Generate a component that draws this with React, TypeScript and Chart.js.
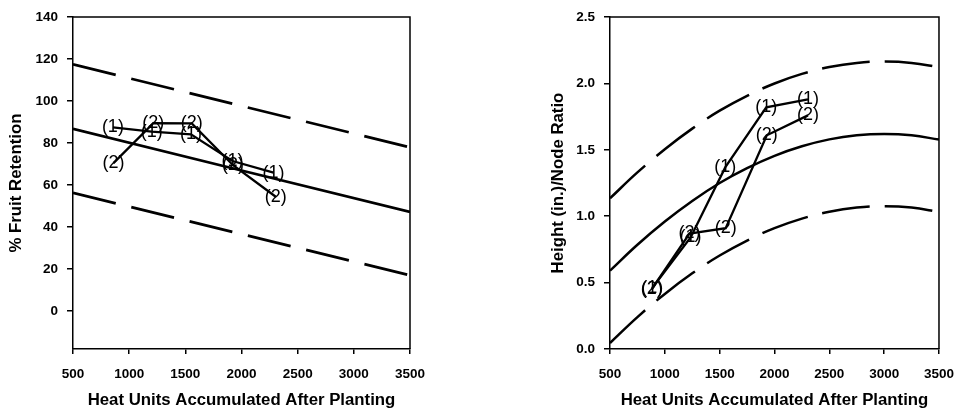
import React, { useEffect, useRef } from "react";
import { Chart, registerables } from "chart.js";

Chart.register(...registerables);

const FONT = '"Liberation Sans", Arial, Helvetica, sans-serif';

// ---------- shared ----------
const heatTicks = [500, 1000, 1500, 2000, 2500, 3000, 3500];
const xTitle = "Heat Units Accumulated After Planting";
const seriesLabels = ["(1)", "(2)"];

// ---------- left chart: % fruit retention ----------
const retentionTrendX = [500, 2000, 3500];
const retentionFit = [86.8, 67.0, 47.3];
const retentionUpper = [117.5, 97.7, 78.0];
const retentionLower = [56.3, 36.7, 17.1];
const retentionObsX1 = [855, 1200, 1550, 1920, 2285];
const retentionObs1 = [87.5, 85.5, 84.2, 71.5, 66.0];
const retentionObsX2 = [860, 1215, 1557, 1925, 2305];
const retentionObs2 = [70.5, 89.5, 89.4, 69.5, 54.5];
const retentionTicks = [0, 20, 40, 60, 80, 100, 120, 140];

// ---------- right chart: height / node ratio ----------
const ratioCurveX = [500, 750, 1000, 1250, 1500, 1750, 2000, 2250, 2500, 2750, 3000, 3250, 3500];
const ratioFit = [0.59, 0.785, 0.96, 1.115, 1.25, 1.362, 1.455, 1.527, 1.579, 1.61, 1.62, 1.61, 1.577];
const ratioUpper = [1.135, 1.33, 1.505, 1.66, 1.795, 1.907, 2.0, 2.072, 2.124, 2.155, 2.165, 2.155, 2.123];
const ratioLower = [0.045, 0.24, 0.415, 0.57, 0.704, 0.817, 0.91, 0.982, 1.034, 1.065, 1.075, 1.065, 1.032];
const ratioObsX1 = [885, 1235, 1552, 1925, 2305];
const ratioObs1 = [0.46, 0.84, 1.37, 1.82, 1.88];
const ratioObsX2 = [880, 1225, 1555, 1930, 2305];
const ratioObs2 = [0.45, 0.87, 0.91, 1.61, 1.76];
const ratioTicks = [0, 0.5, 1.0, 1.5, 2.0, 2.5];

const pts = (xs: number[], ys: number[]) => xs.map((x, i) => ({ x, y: ys[i] }));

const framePlugin = {
  id: "frame",
  afterDraw(chart: any) {
    const { ctx, chartArea } = chart;
    ctx.save();
    ctx.strokeStyle = "#000";
    ctx.lineWidth = 1.5;
    ctx.beginPath();
    ctx.moveTo(chartArea.left, chartArea.top);
    ctx.lineTo(chartArea.right, chartArea.top);
    ctx.lineTo(chartArea.right, chartArea.bottom);
    ctx.stroke();
    ctx.restore();
  },
};

const labelPlugin = {
  id: "pointLabels",
  afterDatasetsDraw(chart: any) {
    const { ctx } = chart;
    ctx.save();
    ctx.font = `18px ${FONT}`;
    ctx.fillStyle = "#000";
    ctx.textAlign = "center";
    ctx.textBaseline = "middle";
    chart.data.datasets.forEach((ds: any, i: number) => {
      if (!ds.pointLabel) return;
      const meta = chart.getDatasetMeta(i);
      meta.data.forEach((el: any) => {
        ctx.fillText(ds.pointLabel, el.x, el.y);
      });
    });
    ctx.restore();
  },
};

type Spec = {
  datasets: any[];
  yMin: number;
  yMax: number;
  yTicks: number[];
  yFormat: (v: number) => string;
  yTitle: string;
  yTitlePad: number;
  yWidth: number;
  padding: { left: number; right: number; top: number; bottom: number };
};

function makeConfig(s: Spec): any {
  const tickFont = { family: FONT, size: 13.5, weight: "bold" as const };
  const titleFont = { family: FONT, size: 16.8, weight: "bold" as const };
  return {
    type: "line",
    data: { datasets: s.datasets },
    options: {
      responsive: false,
      animation: false,
      events: [],
      devicePixelRatio: 1,
      layout: { padding: s.padding },
      plugins: { legend: { display: false }, tooltip: { enabled: false } },
      elements: { point: { radius: 0 } },
      scales: {
        x: {
          type: "linear",
          min: 500,
          max: 3500,
          afterBuildTicks: (axis: any) => {
            axis.ticks = heatTicks.map((v) => ({ value: v }));
          },
          afterFit: (axis: any) => {
            axis.height = 63;
          },
          grid: {
            display: true,
            drawOnChartArea: false,
            drawTicks: true,
            tickLength: 5,
            color: "#000",
            lineWidth: 1.5,
          },
          border: { display: true, color: "#000", width: 1.5 },
          ticks: {
            color: "#000",
            font: tickFont,
            padding: 12,
            maxRotation: 0,
            callback: (v: any) => String(v),
          },
          title: {
            display: true,
            text: xTitle,
            color: "#000",
            font: titleFont,
            padding: { top: 0, bottom: 2 },
          },
        },
        y: {
          type: "linear",
          min: s.yMin,
          max: s.yMax,
          afterBuildTicks: (axis: any) => {
            axis.ticks = s.yTicks.map((v) => ({ value: v }));
          },
          afterFit: (axis: any) => {
            axis.width = s.yWidth;
          },
          grid: {
            display: true,
            drawOnChartArea: false,
            drawTicks: true,
            tickLength: 6,
            color: "#000",
            lineWidth: 1.5,
          },
          border: { display: true, color: "#000", width: 1.5 },
          ticks: {
            color: "#000",
            font: tickFont,
            padding: 9,
            callback: (v: any) => s.yFormat(Number(v)),
          },
          title: {
            display: true,
            text: s.yTitle,
            color: "#000",
            font: titleFont,
            padding: { top: s.yTitlePad, bottom: 0 },
          },
        },
      },
    },
    plugins: [framePlugin, labelPlugin],
  };
}

const lineDs = (data: any[], width: number, dash: number[] | null, tension = 0, label?: string) => ({
  data,
  borderColor: "#000",
  backgroundColor: "#000",
  borderWidth: width,
  borderDash: dash || [],
  pointRadius: 0,
  fill: false,
  tension,
  pointLabel: label,
});

const leftSpec: Spec = {
  datasets: [
    lineDs(pts(retentionTrendX, retentionUpper), 2.7, [44, 16]),
    lineDs(pts(retentionTrendX, retentionFit), 2.7, null),
    lineDs(pts(retentionTrendX, retentionLower), 2.7, [44, 16]),
    lineDs(pts(retentionObsX1, retentionObs1), 2.3, null, 0, seriesLabels[0]),
    lineDs(pts(retentionObsX2, retentionObs2), 2.3, null, 0, seriesLabels[1]),
  ],
  yMin: -18,
  yMax: 140,
  yTicks: retentionTicks,
  yFormat: (v) => String(v),
  yTitle: "% Fruit Retention",
  yTitlePad: 6,
  yWidth: 73,
  padding: { left: 0, right: 73, top: 15, bottom: 0 },
};

const rightSpec: Spec = {
  datasets: [
    lineDs(pts(ratioCurveX, ratioUpper), 2.5, [48, 15], 0.4),
    lineDs(pts(ratioCurveX, ratioFit), 2.5, null, 0.4),
    lineDs(pts(ratioCurveX, ratioLower), 2.5, [48, 15], 0.4),
    lineDs(pts(ratioObsX1, ratioObs1), 2.3, null, 0, seriesLabels[0]),
    lineDs(pts(ratioObsX2, ratioObs2), 2.3, null, 0, seriesLabels[1]),
  ],
  yMin: 0,
  yMax: 2.5,
  yTicks: ratioTicks,
  yFormat: (v) => v.toFixed(1),
  yTitle: "Height (in.)/Node Ratio",
  yTitlePad: 65,
  yWidth: 127,
  padding: { left: 0, right: 19, top: 13, bottom: 0 },
};

function Panel({ spec, left }: { spec: Spec; left: number }) {
  const ref = useRef<HTMLCanvasElement | null>(null);
  useEffect(() => {
    if (!ref.current) return;
    const chart = new Chart(ref.current, makeConfig(spec));
    return () => chart.destroy();
  }, [spec]);
  return (
    <canvas
      ref={ref}
      width={483}
      height={412}
      style={{ position: "absolute", left, top: 0, width: 483, height: 412 }}
    />
  );
}

export default function App() {
  return (
    <div
      style={{
        position: "fixed",
        left: 0,
        top: 0,
        width: 966,
        height: 412,
        background: "#fff",
        overflow: "hidden",
      }}
    >
      <Panel spec={leftSpec} left={0} />
      <Panel spec={rightSpec} left={483} />
    </div>
  );
}
